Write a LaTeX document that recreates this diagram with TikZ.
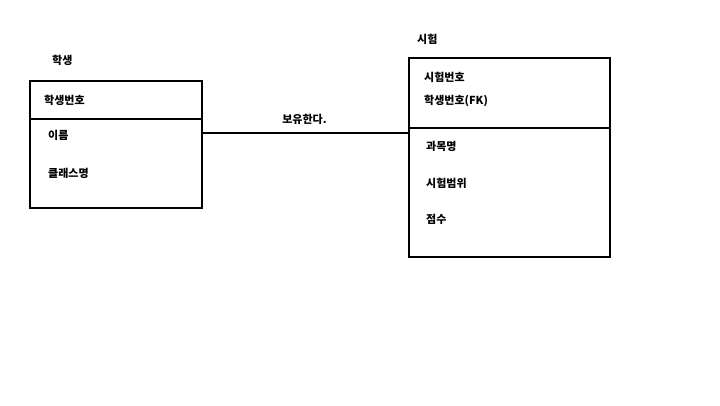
\documentclass[tikz,border=0pt]{standalone}
\usepackage{fontspec}
\setmainfont{Noto Sans CJK KR}
\usepackage{tikz}
\usetikzlibrary{positioning}

\tikzset{
  entbox/.style={draw, line width=2pt, inner sep=0pt, anchor=north west},
  attr/.style={anchor=west, inner sep=0pt, font=\fontsize{11}{13}\selectfont\bfseries},
}

\begin{document}
\begin{tikzpicture}[x=1pt, y=-1pt]
    \useasboundingbox (0,0) rectangle (720,406);

    % student entity
    \node (stT) [attr] at (52, 60) {학생};
    \node[entbox, minimum width=172pt, minimum height=127pt] (st) at (29, 80) {};
    \coordinate (stL) at (29, 119);
    \coordinate (stR) at (201, 119);
    \draw[line width=2pt] (stL) -- (stR);
    \node (st1) [attr] at (44, 100)  {학생번호};
    \node (st2) [attr] at (48, 135) {이름};
    \node (st3) [attr] at (48, 173) {클래스명};

    % exam entity
    \node (exT) [attr] at (417, 39) {시험};
    \node[entbox, minimum width=201pt, minimum height=199pt] (ex) at (408, 57) {};
    \coordinate (exL) at (408, 128);
    \coordinate (exR) at (609, 128);
    \draw[line width=2pt] (exL) -- (exR);
    \node (ex1) [attr] at (424, 77)  {시험번호};
    \node (ex2) [attr] at (424, 101) {학생번호(FK)};
    \node (ex3) [attr] at (426, 146) {과목명};
    \node (ex4) [attr] at (426, 183) {시험범위};
    \node (ex5) [attr] at (426, 219) {점수};

    % relation
    \coordinate (rA) at (201, 133);
    \coordinate (rB) at (408, 133);
    \path
    (rA) edge[line width=2pt] node[above=14pt, attr, anchor=center] {보유한다.} (rB);
\end{tikzpicture}
\end{document}
